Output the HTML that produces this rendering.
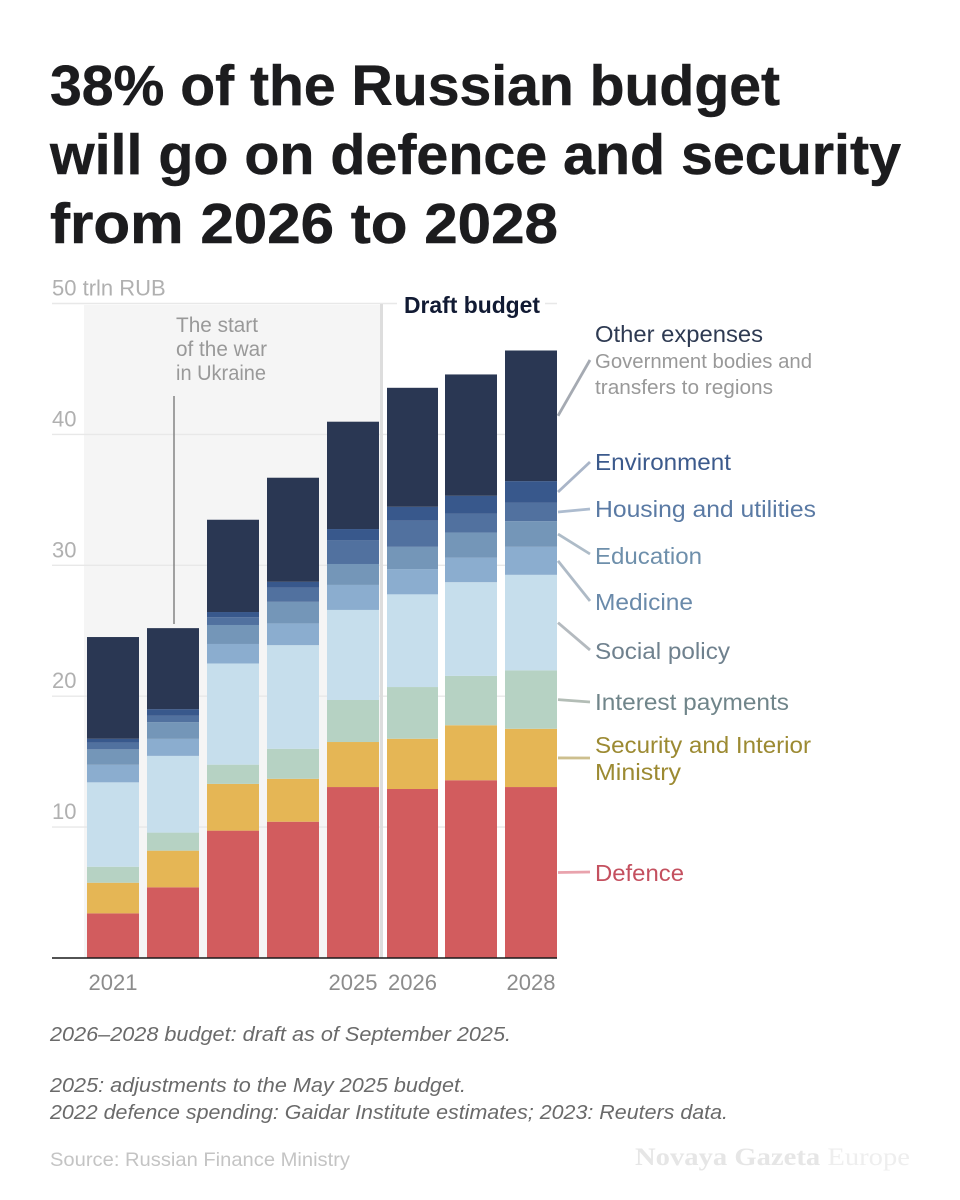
<!DOCTYPE html>
<html lang="en">
<head>
<meta charset="utf-8">
<title>38% of the Russian budget will go on defence and security</title>
<style>
html,body{margin:0;padding:0;background:#fff;}
svg{display:block;}
text{font-family:"Liberation Sans",sans-serif;}
.title{font-size:57px;font-weight:700;fill:#1c1c1e;stroke:#1c1c1e;stroke-width:0.5px;}
.axis-label{font-size:22px;fill:#b0b0b0;}
.x-label{font-size:22px;fill:#8c8c8c;}
.series-label{font-size:23.5px;}
.note{font-size:20.5px;font-style:italic;fill:#6a6a6a;}
.leader{stroke-width:2.8;fill:none;}
</style>
</head>
<body>
<svg id="chart" width="960" height="1200" viewBox="0 0 960 1200" xmlns="http://www.w3.org/2000/svg">
  <rect x="0" y="0" width="960" height="1200" fill="#ffffff"/>

  <g>
    <text class="title" x="50" y="105" textLength="730" lengthAdjust="spacingAndGlyphs">38% of the Russian budget</text>
    <text class="title" x="50" y="174" textLength="851" lengthAdjust="spacingAndGlyphs">will go on defence and security</text>
    <text class="title" x="50" y="243" textLength="508" lengthAdjust="spacingAndGlyphs">from 2026 to 2028</text>
  </g>

  <rect x="84" y="305" width="297" height="653" fill="#f5f5f5"/>
  <g id="grid"></g>
  <rect x="380" y="304" width="3" height="654" fill="#dddddd"/>
  <g id="bars"></g>
  <line x1="52" y1="958" x2="557" y2="958" stroke="#1a1a1a" stroke-width="1.6"/>
  <g id="yticks"></g>
  <g id="xticks"></g>

  <g>
    <text x="176" y="332" textLength="82" lengthAdjust="spacingAndGlyphs" font-size="21" fill="#999999">The start</text>
    <text x="176" y="356" textLength="91" lengthAdjust="spacingAndGlyphs" font-size="21" fill="#999999">of the war</text>
    <text x="176" y="380" textLength="90" lengthAdjust="spacingAndGlyphs" font-size="21" fill="#999999">in Ukraine</text>
    <line x1="174" y1="396" x2="174" y2="624" stroke="#8a8a8a" stroke-width="1.6"/>
  </g>

  <g>
    <rect x="397" y="292" width="148" height="26" fill="#ffffff"/>
    <text x="404" y="313" textLength="136" lengthAdjust="spacingAndGlyphs" font-size="23" font-weight="700" fill="#111a33">Draft budget</text>
  </g>

  <g id="leaders">
    <line class="leader" data-series="8" x1="558" x2="590" y2="360" stroke="#a5aab2"/>
    <line class="leader" data-series="7" x1="558" x2="590" y2="462" stroke="#a9b5c8"/>
    <line class="leader" data-series="6" x1="558" x2="590" y2="509" stroke="#adbccf"/>
    <line class="leader" data-series="5" x1="558" x2="590" y2="554" stroke="#aebcc8"/>
    <line class="leader" data-series="4" x1="558" x2="590" y2="601" stroke="#aebac6"/>
    <line class="leader" data-series="3" x1="558" x2="590" y2="650" stroke="#b4babf"/>
    <line class="leader" data-series="2" x1="558" x2="590" y2="702" stroke="#b3bdb6"/>
    <line class="leader" data-series="1" x1="558" x2="590" y2="758" stroke="#cdbf8e"/>
    <line class="leader" data-series="0" x1="558" x2="590" y2="872" stroke="#e9a3ad"/>
  </g>

  <g>
    <text class="series-label" x="595" y="342" textLength="168" lengthAdjust="spacingAndGlyphs" fill="#2e3a52">Other expenses</text>
    <text x="595" y="368" textLength="217" lengthAdjust="spacingAndGlyphs" font-size="20" fill="#999999">Government bodies and</text>
    <text x="595" y="394" textLength="178" lengthAdjust="spacingAndGlyphs" font-size="20" fill="#999999">transfers to regions</text>
    <text class="series-label" x="595" y="470" textLength="136" lengthAdjust="spacingAndGlyphs" fill="#3c5a8c">Environment</text>
    <text class="series-label" x="595" y="517" textLength="221" lengthAdjust="spacingAndGlyphs" fill="#5a7aa4">Housing and utilities</text>
    <text class="series-label" x="595" y="564" textLength="107" lengthAdjust="spacingAndGlyphs" fill="#6e8fab">Education</text>
    <text class="series-label" x="595" y="610" textLength="98" lengthAdjust="spacingAndGlyphs" fill="#6a8aaa">Medicine</text>
    <text class="series-label" x="595" y="659" textLength="135" lengthAdjust="spacingAndGlyphs" fill="#6f818e">Social policy</text>
    <text class="series-label" x="595" y="710" textLength="194" lengthAdjust="spacingAndGlyphs" fill="#70858a">Interest payments</text>
    <text class="series-label" x="595" y="753" textLength="216" lengthAdjust="spacingAndGlyphs" fill="#9c8a32">Security and Interior</text>
    <text class="series-label" x="595" y="780" textLength="86" lengthAdjust="spacingAndGlyphs" fill="#9c8a32">Ministry</text>
    <text class="series-label" x="595" y="881" textLength="89" lengthAdjust="spacingAndGlyphs" fill="#c4505f">Defence</text>
  </g>

  <g>
    <text class="note" x="50" y="1041" textLength="461" lengthAdjust="spacingAndGlyphs">2026–2028 budget: draft as of September 2025.</text>
    <text class="note" x="50" y="1092" textLength="416" lengthAdjust="spacingAndGlyphs">2025: adjustments to the May 2025 budget.</text>
    <text class="note" x="50" y="1119" textLength="678" lengthAdjust="spacingAndGlyphs">2022 defence spending: Gaidar Institute estimates; 2023: Reuters data.</text>
    <text x="50" y="1166" textLength="300" lengthAdjust="spacingAndGlyphs" font-size="19.5" fill="#c4c4c4">Source: Russian Finance Ministry</text>
  </g>

  <text x="635" y="1165" textLength="275" lengthAdjust="spacingAndGlyphs" font-size="25" fill="#e6e6e6" style="font-family:'Liberation Serif',serif"><tspan font-weight="700">Novaya Gazeta</tspan><tspan fill="#eeeeee"> Europe</tspan></text>
</svg>
<script>
const categories = [2021, 2022, 2023, 2024, 2025, 2026, 2027, 2028];
const defence = [3.41, 5.40, 9.73, 10.41, 13.06, 12.91, 13.58, 13.06];
const security = [2.34, 2.80, 3.57, 3.28, 3.44, 3.84, 4.20, 4.45];
const interest = [1.22, 1.38, 1.47, 2.29, 3.21, 3.95, 3.77, 4.46];
const social = [6.45, 5.86, 7.73, 7.92, 6.88, 7.08, 7.16, 7.30];
const medicine = [1.34, 1.30, 1.49, 1.66, 1.91, 1.93, 1.88, 2.14];
const education = [1.18, 1.28, 1.45, 1.65, 1.60, 1.70, 1.91, 1.96];
const housing = [0.50, 0.48, 0.59, 1.07, 1.83, 1.99, 1.43, 1.40];
const environment = [0.31, 0.51, 0.40, 0.46, 0.84, 1.07, 1.38, 1.66];
const other = [7.77, 6.19, 7.05, 7.95, 8.20, 9.09, 9.27, 9.98];
const seriesNames = ['defence', 'security', 'interest', 'social', 'medicine', 'education', 'housing', 'environment', 'other'];
const yTicks = [10, 20, 30, 40, 50];
const yTickLabels = ['10', '20', '30', '40', '50 trln RUB'];
const xTickYears = [2021, 2025, 2026, 2028];

const seriesValues = [defence, security, interest, social, medicine, education, housing, environment, other];
const seriesColors = ['#d25c5e', '#e5b655', '#b6d2c3', '#c6deec', '#8badcf', '#7496b8', '#51719f', '#38588c', '#2a3753'];
const svgNS = 'http://www.w3.org/2000/svg';
const baseY = 958;
const unitPx = 13.09;
const yScale = function (v) { return baseY - v * unitPx; };
const xScale = function (i) { return 87 + 60 * i - (i > 5 ? 2 : 0); };
const barWidth = function (i) { return i === 5 ? 51 : 52; };

const gridGroup = document.getElementById('grid');
const yTickGroup = document.getElementById('yticks');
yTicks.forEach(function (t, i) {
  const line = document.createElementNS(svgNS, 'line');
  line.setAttribute('x1', 52);
  line.setAttribute('x2', 557);
  line.setAttribute('y1', yScale(t));
  line.setAttribute('y2', yScale(t));
  line.setAttribute('stroke', '#e8e8e8');
  line.setAttribute('stroke-width', 1.4);
  
  
  gridGroup.appendChild(line);

  const label = document.createElementNS(svgNS, 'text');
  label.setAttribute('x', 52);
  label.setAttribute('y', yScale(t) - 8);
  label.setAttribute('class', 'axis-label');
  
  
  label.textContent = yTickLabels[i];
  yTickGroup.appendChild(label);
});

const barsGroup = document.getElementById('bars');
categories.forEach(function (year, i) {
  let cumulative = 0;
  seriesValues.forEach(function (values, s) {
    const v = values[i];
    const rect = document.createElementNS(svgNS, 'rect');
    rect.setAttribute('x', xScale(i));
    rect.setAttribute('y', yScale(cumulative + v));
    rect.setAttribute('width', barWidth(i));
    rect.setAttribute('height', v * unitPx);
    rect.setAttribute('fill', seriesColors[s]);
    
    
    barsGroup.appendChild(rect);
    cumulative += v;
  });
});

const xTickGroup = document.getElementById('xticks');
xTickYears.forEach(function (year) {
  const i = categories.indexOf(year);
  const label = document.createElementNS(svgNS, 'text');
  label.setAttribute('x', xScale(i) + barWidth(i) / 2);
  label.setAttribute('y', 990);
  label.setAttribute('text-anchor', 'middle');
  label.setAttribute('class', 'x-label');
  
  
  label.textContent = String(year);
  xTickGroup.appendChild(label);
});

const lastIndex = categories.length - 1;
document.querySelectorAll('#leaders line').forEach(function (line) {
  const s = Number(line.getAttribute('data-series'));
  let below = 0;
  for (let k = 0; k < s; k++) { below += seriesValues[k][lastIndex]; }
  line.setAttribute('y1', yScale(below + seriesValues[s][lastIndex] / 2));
});
</script>
</body>
</html>
